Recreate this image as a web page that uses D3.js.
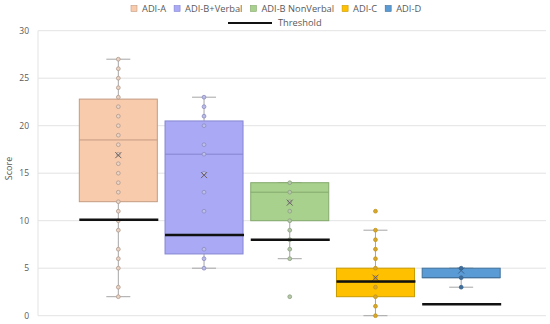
<!DOCTYPE html>
<html>
<head>
<meta charset="utf-8">
<script src="https://cdn.jsdelivr.net/npm/d3@7/dist/d3.min.js"></script>
<style>
  body { margin: 0; background: #fff; }
  text { font-family: "Open Sans", sans-serif; fill: #595959; }
</style>
</head>
<body>
<svg id="chart"></svg>
<script>
// series
const series = ['ADI-A', 'ADI-B+Verbal', 'ADI-B NonVerbal', 'ADI-C', 'ADI-D'];
const q1 = [12, 6.5, 10, 2, 4];
const medians = [18.5, 17, 13, 3.5, 4];
const q3 = [22.8, 20.5, 14, 5, 5];
const means = [16.9, 14.8, 11.9, 4.0, 4.75];
const whiskerLo = [2, 5, 6, 0, 3];
const whiskerHi = [27, 23, 14, 9, 5];
const thresholds = [10.1, 8.5, 8, 3.6, 1.2];
const points = [
    [27, 26, 25, 24, 23, 22, 21, 20, 19, 18, 17, 16, 15, 14, 13, 12, 11, 10, 9, 7, 6, 5, 3, 2],
    [23, 22, 21, 20, 18, 17, 15, 13, 11, 7, 6, 5],
    [14, 13, 12, 11, 10, 9, 8, 7, 6],
    [9, 8, 7, 6, 5, 4, 3, 2, 1, 0],
    [5, 4, 3]
];
const outliers = [[], [], [2], [11], []];
const yTicks = [0, 5, 10, 15, 20, 25, 30];

const fills = ['#F8CBAD', '#A9A9F5', '#A9D18E', '#FFC000', '#5B9BD5'];
const strokes = ['#C49A80', '#8585D0', '#84A86C', '#C99A00', '#41719C'];
const dotFill = ['#EBD3C6', '#BDBDEA', '#B5C9A8', '#D9A62A', '#3F6E9A'];
const dotStroke = ['#B09A8C', '#8C8CC0', '#8A9E80', '#C0941E', '#3A6590'];

const W = 550, H = 324;
const margin = {top: 30.7, right: 4, bottom: 8.3, left: 38};

const svg = d3.select('#chart').attr('width', W).attr('height', H);

const x = d3.scaleBand()
    .domain(series)
    .range([margin.left, 541.5])
    .paddingInner(0.09)
    .paddingOuter(0.482);

const y = d3.scaleLinear()
    .domain([0, 30])
    .range([H - margin.bottom, margin.top]);

// gridlines
svg.append('g')
    .selectAll('line')
    .data(yTicks)
    .join('line')
    .attr('x1', margin.left)
    .attr('x2', W - margin.right)
    .attr('y1', d => y(d))
    .attr('y2', d => y(d))
    .attr('stroke', '#e3e3e3')
    .attr('stroke-width', 1);

svg.append('line')
    .attr('x1', margin.left).attr('x2', margin.left)
    .attr('y1', y(30)).attr('y2', y(0))
    .attr('stroke', '#e3e3e3');

const yAxis = d3.axisLeft(y).tickValues(yTicks).tickSize(0).tickPadding(9);
svg.append('g')
    .attr('transform', 'translate(' + margin.left + ',0)')
    .call(yAxis)
    .call(g => g.select('.domain').remove())
    .selectAll('text')
    .style('font-size', '8.5px')
    .style('font-family', '"Open Sans", sans-serif')
    .attr('fill', '#595959');

svg.append('text')
    .attr('transform', 'translate(12,' + y(15.5) + ') rotate(-90)')
    .attr('text-anchor', 'middle')
    .style('font-size', '9px')
    .text('Score');

const bw = x.bandwidth();
const capW = 24;

series.forEach((s, i) => {
    const cx = x(s) + bw / 2;
    const g = svg.append('g');

    // whiskers
    g.append('line')
        .attr('x1', cx).attr('x2', cx)
        .attr('y1', y(whiskerLo[i])).attr('y2', y(whiskerHi[i]))
        .attr('stroke', '#a6a6a6').attr('stroke-width', 1);
    [whiskerLo[i], whiskerHi[i]].forEach(v => {
        g.append('line')
            .attr('x1', cx - capW / 2).attr('x2', cx + capW / 2)
            .attr('y1', y(v)).attr('y2', y(v))
            .attr('stroke', '#a6a6a6').attr('stroke-width', 1);
    });

    // box
    g.append('rect')
        .attr('x', x(s))
        .attr('width', bw)
        .attr('y', y(q3[i]))
        .attr('height', y(q1[i]) - y(q3[i]))
        .attr('fill', fills[i])
        .attr('stroke', strokes[i])
        .attr('stroke-width', 1);

    g.append('line')
        .attr('x1', x(s)).attr('x2', x(s) + bw)
        .attr('y1', y(medians[i])).attr('y2', y(medians[i]))
        .attr('stroke', strokes[i]).attr('stroke-width', 1);

    // inner points and outliers
    g.selectAll('circle.pt')
        .data(points[i].concat(outliers[i]))
        .join('circle')
        .attr('class', 'pt')
        .attr('cx', cx)
        .attr('cy', d => y(d))
        .attr('r', 1.9)
        .attr('fill', dotFill[i])
        .attr('stroke', dotStroke[i])
        .attr('stroke-width', 0.8);

    // mean marker
    const m = 3;
    const my = y(means[i]);
    g.append('path')
        .attr('d', `M${cx - m},${my - m}L${cx + m},${my + m}M${cx - m},${my + m}L${cx + m},${my - m}`)
        .attr('stroke', i === 4 ? '#3A6590' : '#6b6060')
        .attr('stroke-width', 1);

    // threshold
    g.append('line')
        .attr('x1', x(s)).attr('x2', x(s) + bw + 1)
        .attr('y1', y(thresholds[i])).attr('y2', y(thresholds[i]))
        .attr('stroke', '#111').attr('stroke-width', 2.5);
});

// legend
const legend = svg.append('g');
const row1 = legend.append('g');
let lx = 0;
series.forEach((s, i) => {
    row1.append('rect')
        .attr('x', lx).attr('y', 5.5)
        .attr('width', 6).attr('height', 6)
        .attr('fill', fills[i])
        .attr('stroke', strokes[i]).attr('stroke-width', 0.6);
    const t = row1.append('text')
        .attr('x', lx + 11).attr('y', 11.5)
        .style('font-size', '9.3px')
        .text(s);
    lx += 11 + t.node().getComputedTextLength() + 8;
});
row1.attr('transform', 'translate(131,0)');

const row2 = legend.append('g');
row2.append('line')
    .attr('x1', 0).attr('x2', 44)
    .attr('y1', 23).attr('y2', 23)
    .attr('stroke', '#111').attr('stroke-width', 2);
row2.append('text')
    .attr('x', 50).attr('y', 26)
    .style('font-size', '9.3px')
    .text('Threshold');
row2.attr('transform', 'translate(228,0)');
</script>
</body>
</html>
